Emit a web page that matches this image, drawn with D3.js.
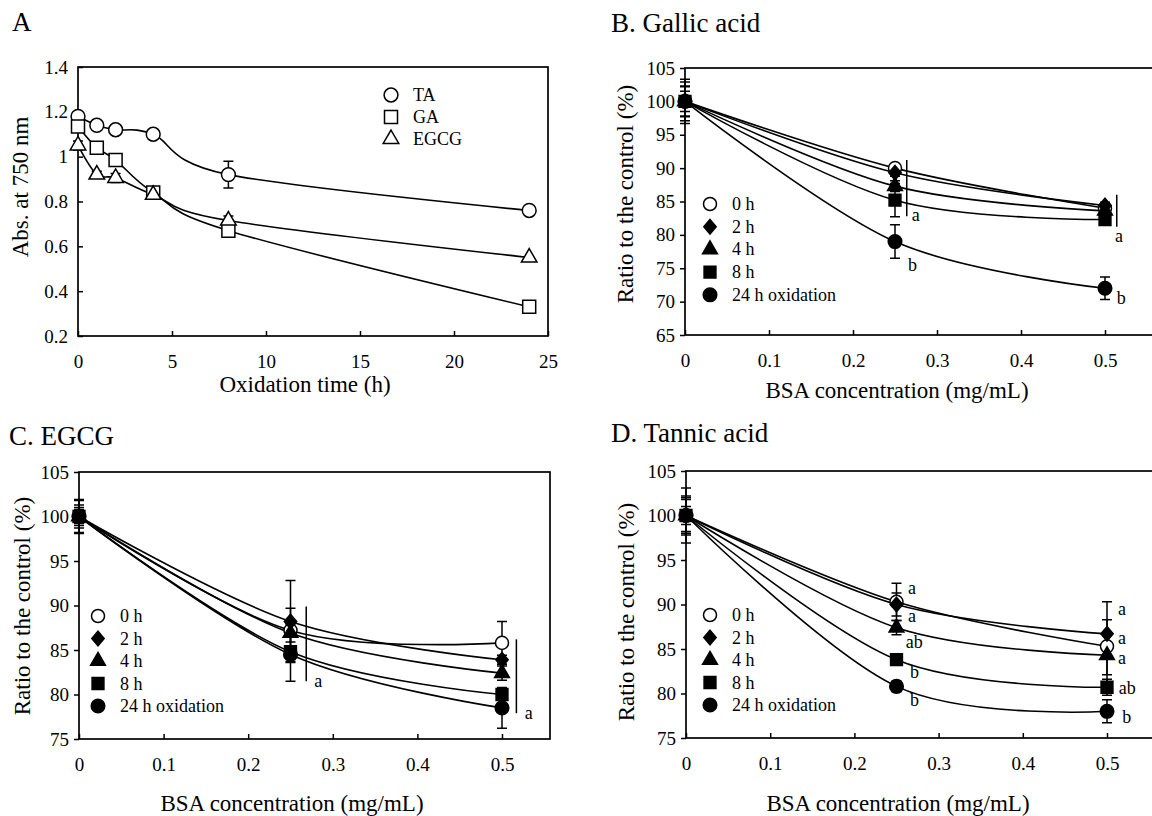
<!DOCTYPE html>
<html><head><meta charset="utf-8">
<script src="https://cdn.jsdelivr.net/npm/d3@7"></script>
<style>
body{margin:0;background:#fff}
svg{display:block}
svg text{font-family:"Liberation Serif","Tinos","Times New Roman","DejaVu Serif","Noto Serif",serif !important;fill:#000}
</style>
</head><body>
<svg id="c" width="1152" height="816"></svg>
<script>
// ---------- Panel A data ----------
const aTime   = [0, 1, 2, 4, 8, 24];
const aTA     = [1.18, 1.14, 1.12, 1.10, 0.92, 0.76];
const aTAErr  = [0, 0, 0, 0, 0.06, 0];
const aGA     = [1.135, 1.04, 0.985, 0.84, 0.67, 0.33];
const aGAErr  = [0, 0, 0, 0, 0, 0];
const aEGCG   = [1.05, 0.92, 0.905, 0.83, 0.715, 0.55];
const aEGCGErr= [0.02, 0.015, 0.02, 0, 0.02, 0];
const aNames  = ["TA", "GA", "EGCG"];
const aXTicks = [0, 5, 10, 15, 20, 25];
const aYTicks = [0.2, 0.4, 0.6, 0.8, 1, 1.2, 1.4];

// ---------- Panels B-D shared ----------
const bsaConc   = [0, 0.25, 0.5];
const hourNames = ["0 h", "2 h", "4 h", "8 h", "24 h oxidation"];
const bsaTicks  = [0, 0.1, 0.2, 0.3, 0.4, 0.5];

// B. Gallic acid (rows: 0,2,4,8,24 h)
const gaMean = [[100, 90.0, 84.0], [100, 89.3, 84.4], [100, 87.3, 83.6], [100, 85.2, 82.3], [100, 79.0, 72.0]];
const gaErr  = [[3.3, 0.5, 0.4], [2.3, 0.5, 0.5], [2.9, 0.8, 0.6], [2.2, 2.5, 0.5], [1.5, 2.5, 1.7]];
const gaYTicks = [65, 70, 75, 80, 85, 90, 95, 100, 105];
const gaLetters = [["a", 0.270, 82.1], ["b", 0.2655, 74.6], ["a", 0.512, 79.0], ["b", 0.514, 69.6]];
const gaBrackets = [[0.264, 91.2, 82.8], [0.514, 86.0, 81.2]];

// C. EGCG
const egMean = [[100, 87.2, 85.8], [100, 88.2, 83.9], [100, 86.9, 82.4], [100, 84.8, 80.0], [100, 84.5, 78.5]];
const egErr  = [[1.3, 2.5, 2.4], [1.9, 4.6, 0.5], [1.0, 1.0, 0.8], [1.8, 3.3, 0.6], [0.8, 0.8, 2.3]];
const egYTicks = [75, 80, 85, 90, 95, 100, 105];
const egLetters = [["a", 0.278, 80.8], ["a", 0.527, 77.25]];
const egBrackets = [[0.2686, 89.9, 81.5], [0.517, 86.2, 77.9]];

// D. Tannic acid
const taMean = [[100, 90.3, 85.3], [100, 90.0, 86.7], [100, 87.4, 84.3], [100, 83.8, 80.7], [100, 80.8, 78.0]];
const taErr  = [[3.1, 2.1, 5.0], [2.2, 1.3, 1.6], [1.8, 0.8, 2.2], [2.0, 0.5, 0.9], [1.0, 0.6, 1.3]];
const taYTicks = [75, 80, 85, 90, 95, 100, 105];
const taLetters = [["a", 0.2637, 91.2], ["a", 0.2637, 88.0], ["ab", 0.261, 85.1], ["b", 0.266, 81.7], ["b", 0.266, 78.6],
                   ["a", 0.513, 88.8], ["a", 0.513, 85.6], ["a", 0.513, 83.3], ["ab", 0.514, 79.9], ["b", 0.518, 76.7]];
const taBrackets = [];

// ---------- drawing ----------
const SERIF = '"Liberation Serif","Tinos","Times New Roman","DejaVu Serif","Noto Serif",serif';
const svg = d3.select("#c");
const diamond = { draw(ctx, size) { const h = Math.sqrt(size / 0.425) / 2, w = h * 0.85;
  ctx.moveTo(0, -h); ctx.lineTo(w, 0); ctx.lineTo(0, h); ctx.lineTo(-w, 0); ctx.closePath(); } };
const hourSym = [
  {type: d3.symbolCircle, size: 133, fill: "#fff"},
  {type: diamond, size: 90, fill: "#000"},
  {type: d3.symbolTriangle, size: 95, fill: "#000"},
  {type: d3.symbolSquare, size: 140, fill: "#000"},
  {type: d3.symbolCircle, size: 145, fill: "#000"}
];
const aSym = [
  {type: d3.symbolCircle, size: 150, fill: "#fff"},
  {type: d3.symbolSquare, size: 169, fill: "#fff"},
  {type: d3.symbolTriangle, size: 105, fill: "#fff"}
];
const curve = d3.curveCardinal.tension(0);

function txt(sel, size) { return sel.attr("font-family", SERIF).style("font-family", SERIF).style("font-size", size + "px"); }

function frame(p) {
  const x = d3.scaleLinear().domain(p.xd).range([p.l, p.xr]);
  const y = d3.scaleLinear().domain(p.yd).range([p.b, p.t]);
  const g = svg.append("g");
  g.append("rect").attr("x", p.l).attr("y", p.t).attr("width", p.r - p.l).attr("height", p.b - p.t)
    .attr("fill", "none").attr("stroke", "#000").attr("stroke-width", 1.7);
  const xa = g.append("g").attr("transform", `translate(0,${p.b})`)
    .call(d3.axisBottom(x).tickValues(p.xt).tickFormat(d => String(d)).tickSize(-5).tickPadding(19));
  xa.select(".domain").remove();
  const ya = g.append("g").attr("transform", `translate(${p.l},0)`)
    .call(d3.axisLeft(y).tickValues(p.yt).tickFormat(d => String(d)).tickSize(p.yin ? -5 : 5).tickPadding(p.yin ? 10 : 5));
  ya.select(".domain").remove();
  xa.attr("font-family", SERIF); ya.attr("font-family", SERIF);
  g.selectAll(".tick line").attr("stroke", "#000").attr("stroke-width", 1.5);
  txt(g.selectAll(".tick text"), 19);
  // titles
  txt(g.append("text").attr("x", p.title[1]).attr("y", p.title[2]), 27).text(p.title[0]);
  txt(g.append("text").attr("x", p.xl[1]).attr("y", p.xl[2]).attr("text-anchor", "middle"), 23).text(p.xl[0]);
  txt(g.append("text").attr("transform", `translate(${p.yl[1]},${p.yl[2]}) rotate(-90)`).attr("dy", "0.35em")
    .attr("text-anchor", "middle"), 23).text(p.yl[0]);
  return {x, y, g};
}

function series(ctx, xs, ys, es) {
  const {x, y, g} = ctx;
  const pts = xs.map((v, i) => [v, ys[i], es[i]]);
  g.append("path").datum(pts).attr("fill", "none").attr("stroke", "#000").attr("stroke-width", 1.6)
    .attr("d", d3.line().x(d => x(d[0])).y(d => y(d[1])).curve(curve));
  return pts;
}
function errs(ctx, pts) {
  const {x, y, g} = ctx;
  pts.filter(d => d[2] > 0).forEach(d => {
    const cx = x(d[0]), y1 = y(d[1] - d[2]), y2 = y(d[1] + d[2]);
    g.append("path").attr("fill", "none").attr("stroke", "#000").attr("stroke-width", 1.5)
      .attr("d", `M${cx},${y1}V${y2}M${cx - 5},${y1}H${cx + 5}M${cx - 5},${y2}H${cx + 5}`);
  });
}
function marks(ctx, pts, sym) {
  const {x, y, g} = ctx;
  g.selectAll(null).data(pts).join("path")
    .attr("transform", d => `translate(${x(d[0])},${y(d[1])})`)
    .attr("d", d3.symbol().type(sym.type).size(sym.size))
    .attr("fill", sym.fill).attr("stroke", "#000").attr("stroke-width", 1.5);
}
function legend(g, x0, y0, dy, names, syms) {
  names.forEach((n, i) => {
    g.append("path").attr("transform", `translate(${x0},${y0 + i * dy})`)
      .attr("d", d3.symbol().type(syms[i].type).size(syms[i].size))
      .attr("fill", syms[i].fill).attr("stroke", "#000").attr("stroke-width", 1.5);
    txt(g.append("text").attr("x", x0 + 22).attr("y", y0 + i * dy + 6), 18).text(n);
  });
}

// Panel A
(function () {
  const ctx = frame({l: 78, r: 548, xr: 548, t: 67, b: 336, xd: [0, 25], yd: [0.2, 1.4], xt: aXTicks, yt: aYTicks, yin: true,
    title: ["A", 12, 31], xl: ["Oxidation time (h)", 305, 392], yl: ["Abs. at 750 nm", 20, 187]});
  const ys = [aTA, aGA, aEGCG], es = [aTAErr, aGAErr, aEGCGErr];
  const all = ys.map((v, i) => series(ctx, aTime, v, es[i]));
  all.forEach(p => errs(ctx, p));
  all.forEach((p, i) => marks(ctx, p, aSym[i]));
  legend(ctx.g, 391, 95, 22, aNames, aSym);
})();

function bsaPanel(p, mean, err, letters, brackets) {
  const ctx = frame(p);
  const all = mean.map((v, i) => series(ctx, bsaConc, v, err[i]));
  all.forEach(pt => errs(ctx, pt));
  all.forEach((pt, i) => marks(ctx, pt, hourSym[i]));
  brackets.forEach(b => ctx.g.append("line").attr("x1", ctx.x(b[0])).attr("x2", ctx.x(b[0]))
    .attr("y1", ctx.y(b[1])).attr("y2", ctx.y(b[2])).attr("stroke", "#000").attr("stroke-width", 1.5));
  letters.forEach(l => txt(ctx.g.append("text").attr("x", ctx.x(l[1])).attr("y", ctx.y(l[2])), 18).text(l[0]));
  legend(ctx.g, p.leg[0], p.leg[1], p.leg[2], hourNames, hourSym);
}

bsaPanel({l: 685, r: 1160, xr: 1105, t: 68, b: 335, xd: [0, 0.5], yd: [65, 105], xt: bsaTicks, yt: gaYTicks,
  title: ["B. Gallic acid", 611, 32], xl: ["BSA concentration (mg/mL)", 897, 398], yl: ["Ratio to the control (%)", 625, 194],
  leg: [710, 204, 22.7]}, gaMean, gaErr, gaLetters, gaBrackets);
bsaPanel({l: 79, r: 550, xr: 502, t: 472, b: 739, xd: [0, 0.5], yd: [75, 105], xt: bsaTicks, yt: egYTicks,
  title: ["C. EGCG", 9, 445], xl: ["BSA concentration (mg/mL)", 292, 811], yl: ["Ratio to the control (%)", 22, 606],
  leg: [98, 616, 22.5]}, egMean, egErr, egLetters, egBrackets);
bsaPanel({l: 686, r: 1160, xr: 1107, t: 471, b: 738, xd: [0, 0.5], yd: [75, 105], xt: bsaTicks, yt: taYTicks,
  title: ["D. Tannic acid", 611, 442], xl: ["BSA concentration (mg/mL)", 898, 811], yl: ["Ratio to the control (%)", 626, 612],
  leg: [710, 615, 22.5]}, taMean, taErr, taLetters, taBrackets);
</script>
</body></html>
